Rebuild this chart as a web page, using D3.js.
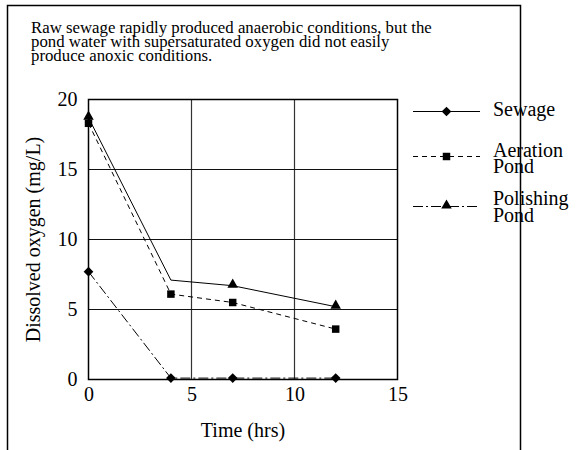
<!DOCTYPE html>
<html>
<head>
<meta charset="utf-8">
<script src="https://cdn.jsdelivr.net/npm/d3@7"></script>
</head>
<body style="margin:0;background:#fff">
<div id="chart"></div>
<script>
// data
const times = [0, 4, 7, 12];
const sewage = [7.7, 0.1, 0.1, 0.1];
const aeration = [18.3, 6.1, 5.5, 3.6];
const polishing = [18.7, 7.1, 6.7, 5.2];
const polishingMarked = [true, false, true, true]; // no triangle drawn at 4 hrs
const xTicks = [0, 5, 10, 15];
const yTicks = [0, 5, 10, 15, 20];
const titleLines = [
  "Raw sewage rapidly produced anaerobic conditions, but the",
  "pond water with supersaturated oxygen did not easily",
  "produce anoxic conditions."
];
const legendNames = [["Sewage"], ["Aeration", "Pond"], ["Polishing", "Pond"]];

const FONT = "'Liberation Serif', 'Times New Roman', serif";
const W = 579, H = 450;
const svg = d3.select("#chart").append("svg")
  .attr("width", W).attr("height", H)
  .style("font-family", FONT);

// outer frame (open at the bottom)
svg.append("path")
  .attr("d", "M7.5," + H + "V5.5H520.5V" + H)
  .attr("fill", "none").attr("stroke", "#000").attr("stroke-width", 1.5);

// title text
svg.append("g").selectAll("text").data(titleLines).join("text")
  .attr("x", 31).attr("y", (d, i) => 32.5 + i * 14)
  .style("font-family", FONT).style("font-size", "16.8px")
  .text(d => d);

const x = d3.scaleLinear().domain([0, 15]).range([88.5, 397.5]);
const y = d3.scaleLinear().domain([0, 20]).range([379.5, 99.5]);

// grid
const grid = svg.append("g");
grid.selectAll("line.gx").data(xTicks.slice(1, -1)).join("line")
  .attr("x1", d => x(d)).attr("x2", d => x(d))
  .attr("y1", y(0)).attr("y2", y(20))
  .attr("stroke", "#333").attr("stroke-width", 1.2);
grid.selectAll("line.gy").data(yTicks.slice(1, -1)).join("line")
  .attr("x1", x(0)).attr("x2", x(15))
  .attr("y1", d => y(d)).attr("y2", d => y(d))
  .attr("stroke", "#111").attr("stroke-width", 1.2);

// axes
const xAxis = d3.axisBottom(x).tickValues(xTicks).tickSize(0).tickPadding(7);
const yAxis = d3.axisLeft(y).tickValues(yTicks).tickSize(0).tickPadding(11);
const gx = svg.append("g").attr("transform", "translate(0," + y(0) + ")").call(xAxis);
const gy = svg.append("g").attr("transform", "translate(" + x(0) + ",0)").call(yAxis);
[gx, gy].forEach(g => {
  g.attr("font-family", null).attr("font-size", null);
  g.select(".domain").remove();
  g.selectAll("text").style("font-family", FONT).style("font-size", "20px").attr("fill", "#000");
});

// plot border
svg.append("rect")
  .attr("x", x(0)).attr("y", y(20))
  .attr("width", x(15) - x(0)).attr("height", y(0) - y(20))
  .attr("fill", "none").attr("stroke", "#000").attr("stroke-width", 1.5);

// axis titles
svg.append("text")
  .attr("x", (x(0) + x(15)) / 2).attr("y", 437)
  .attr("text-anchor", "middle")
  .style("font-family", FONT).style("font-size", "20px")
  .text("Time (hrs)");
svg.append("text")
  .attr("transform", "translate(40," + (y(0) + y(20)) / 2 + ") rotate(-90)")
  .attr("text-anchor", "middle")
  .style("font-family", FONT).style("font-size", "20px")
  .text("Dissolved oxygen (mg/L)");

// line styles
const solid = null, dashed = "5,4", dashDot = "10,3,2,3";

const line = d3.line().x(d => x(d[0])).y(d => y(d[1]));
const pts = vals => times.map((t, i) => [t, vals[i]]);

svg.append("path").datum(pts(polishing)).attr("d", line)
  .attr("fill", "none").attr("stroke", "#000").attr("stroke-width", 1);
svg.append("path").datum(pts(aeration)).attr("d", line)
  .attr("fill", "none").attr("stroke", "#000").attr("stroke-width", 1)
  .attr("stroke-dasharray", dashed);
svg.append("path").datum(pts(sewage)).attr("d", line)
  .attr("fill", "none").attr("stroke", "#000").attr("stroke-width", 1)
  .attr("stroke-dasharray", dashDot);

const diamond = d3.symbol().type(d3.symbolDiamond2).size(60)();
const square = d3.symbol().type(d3.symbolSquare).size(56)();
const triangle = d3.symbol().type(d3.symbolTriangle).size(48)();

svg.append("g").selectAll("path").data(pts(sewage)).join("path")
  .attr("d", diamond)
  .attr("transform", d => "translate(" + x(d[0]) + "," + y(d[1]) + ")");
svg.append("g").selectAll("path").data(pts(aeration)).join("path")
  .attr("d", square)
  .attr("transform", d => "translate(" + x(d[0]) + "," + y(d[1]) + ")");
svg.append("g").selectAll("path").data(pts(polishing).filter((d, i) => polishingMarked[i])).join("path")
  .attr("d", triangle)
  .attr("transform", d => "translate(" + x(d[0]) + "," + (y(d[1]) - 1) + ")");

// legend
const legendY = [111.5, 156.5, 206.5];
const legendDash = [solid, dashed, dashDot];
const legendSym = [diamond, square, triangle];
const legendTextShift = [4.5, 0, -1.5];
const lg = svg.append("g");
legendNames.forEach((names, i) => {
  lg.append("line")
    .attr("x1", 413).attr("x2", 480)
    .attr("y1", legendY[i]).attr("y2", legendY[i])
    .attr("stroke", "#000").attr("stroke-width", 1)
    .attr("stroke-dasharray", legendDash[i]);
  lg.append("path").attr("d", legendSym[i])
    .attr("transform", "translate(446.5," + (legendY[i] - (i === 2 ? 1 : 0)) + ")");
  names.forEach((n, j) => {
    lg.append("text").attr("x", 493).attr("y", legendY[i] + legendTextShift[i] + j * 16.7)
      .style("font-family", FONT).style("font-size", "20px").text(n);
  });
});
</script>
</body>
</html>
